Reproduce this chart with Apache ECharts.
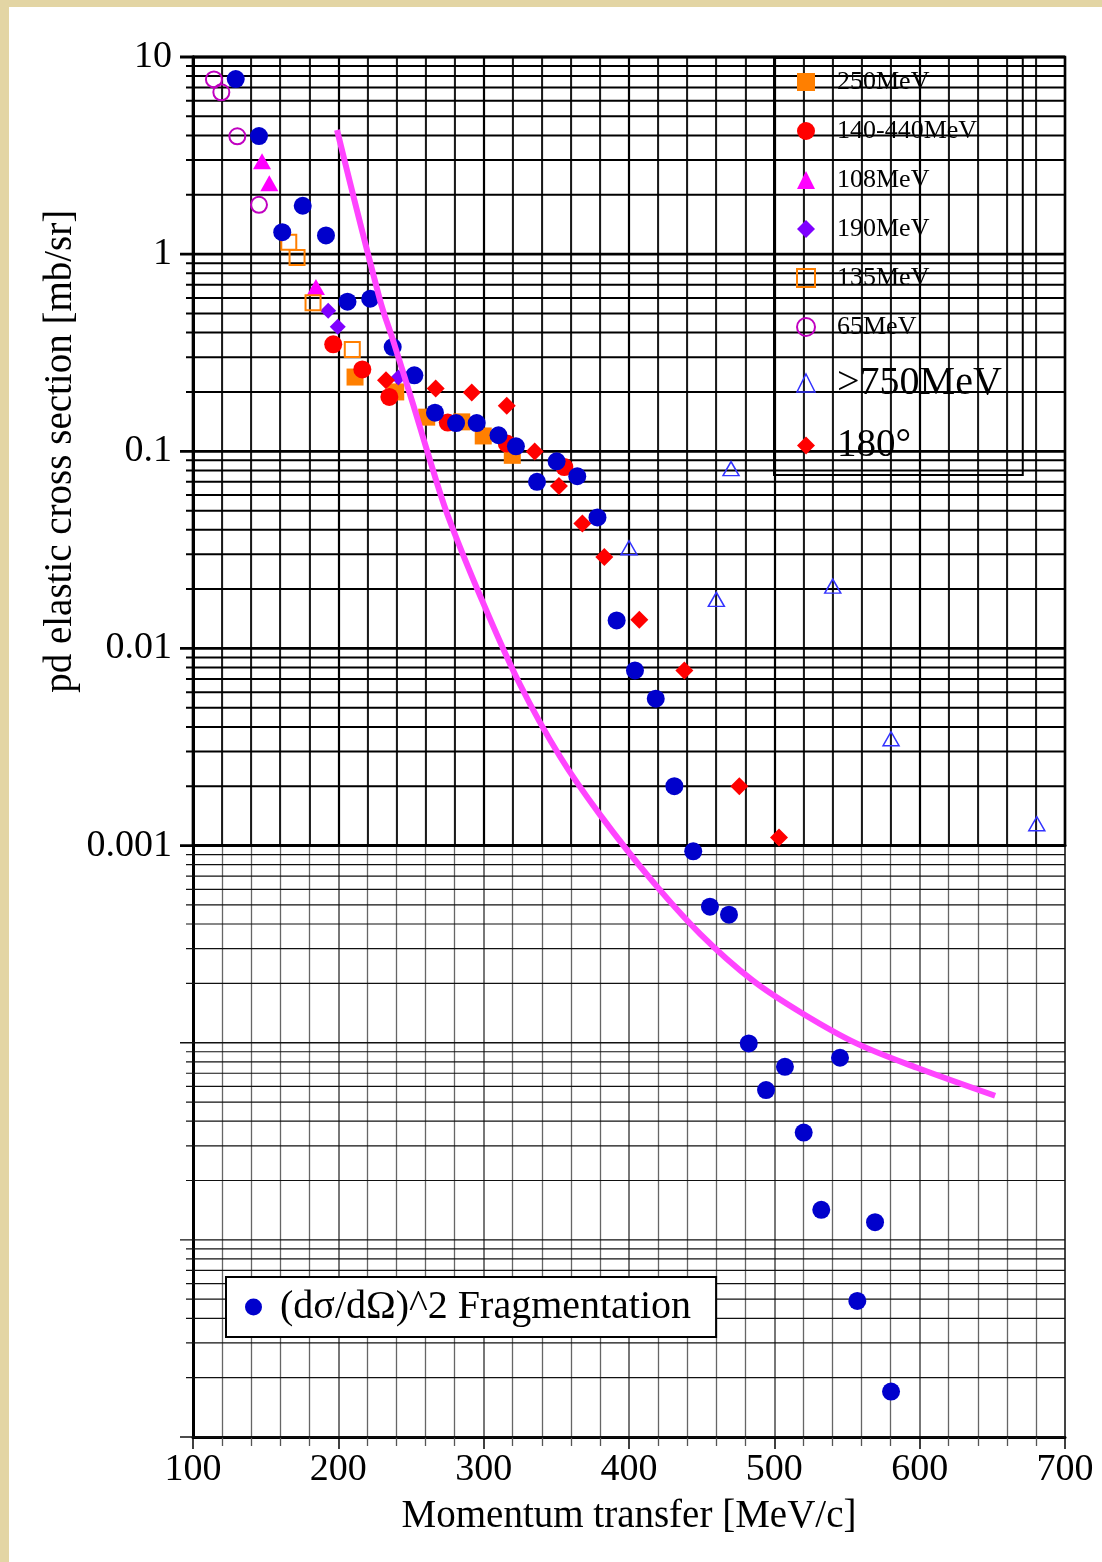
<!DOCTYPE html>
<html>
<head>
<meta charset="utf-8">
<title>pd elastic cross section</title>
<script src="https://cdn.jsdelivr.net/npm/echarts@6/dist/echarts.min.js"></script>
<style>
  html, body { margin: 0; padding: 0; background: #e3d5a4; overflow: hidden; }
  #paper { position: absolute; left: 9px; top: 7px; right: 0; bottom: 0; background: #ffffff; }
  #chart { position: absolute; left: 0; top: 0; width: 1102px; height: 1562px; }
</style>
</head>
<body>
<div id="paper"></div>
<div id="chart"></div>
<script>
// ---- axes ----
const X_MIN = 100, X_MAX = 700;
const xTickLabels = [100, 200, 300, 400, 500, 600, 700];
const yTickLabels = [10, 1, 0.1, 0.01, 0.001];
const Y_MIN_FULL = 1e-6, Y_MAX = 10, Y_MIN_UPPER = 0.001;

// ---- measurements: [momentum transfer MeV/c, cross section mb/sr] ----
const fragmentation = [
  [129.4, 7.73], [145.4, 3.97], [161.4, 1.293], [175.5, 1.76], [191.5, 1.245],
  [206.3, 0.574], [221.9, 0.594], [237.4, 0.338], [252.3, 0.243], [266.5, 0.157],
  [281.0, 0.139], [295.2, 0.139], [310.2, 0.1206], [322.2, 0.106], [336.7, 0.070],
  [350.2, 0.0889], [364.4, 0.0747], [378.3, 0.0462], [391.5, 0.01387], [404.1, 0.00773],
  [418.4, 0.00556], [431.2, 0.0020], [444.2, 0.000935], [455.7, 0.00049], [468.8, 0.000446],
  [482.4, 9.92e-5], [494.3, 5.75e-5], [507.3, 7.55e-5], [520.2, 3.50e-5], [532.3, 1.42e-5],
  [545.2, 8.39e-5], [557.1, 4.90e-6], [569.3, 1.23e-5], [580.3, 1.70e-6]
];
const mev250 = [[211.5, 0.238], [239.5, 0.20], [260.8, 0.149], [284.9, 0.141], [299.7, 0.1196], [319.7, 0.0954]];
const mev140to440 = [[196.5, 0.349], [216.5, 0.26], [235.1, 0.1886], [275.3, 0.1399], [315.9, 0.1094], [355.5, 0.0832]];
const mev108 = [[147.5, 2.96], [152.5, 2.29], [184.6, 0.682]];
const mev190 = [[193.0, 0.516], [199.6, 0.428], [241.3, 0.237]];
const mev135 = [[165.9, 1.15], [171.6, 0.962], [182.6, 0.566], [209.6, 0.328]];
const mev65 = [[114.4, 7.70], [119.5, 6.62], [130.5, 3.96], [145.4, 1.78]];
const mevOver750 = [[400.0, 0.0324], [460.1, 0.01773], [470.2, 0.0817], [540.2, 0.0207], [580.3, 0.00348], [680.6, 0.00129]];
const deg180 = [
  [232.8, 0.2293], [267.0, 0.208], [291.8, 0.1986], [315.9, 0.170], [335.1, 0.0997], [351.8, 0.0667],
  [367.9, 0.0430], [383.0, 0.0291], [407.1, 0.01399], [438.1, 0.00773], [475.9, 0.0020], [503.2, 0.0011]
];

// ---- calculated curve ----
const curveX = [199.1, 228.7, 237.6, 251.4, 261.0, 274.8, 298.9, 325.0, 352.5, 380.0, 415.8, 448.9, 485.3, 519.7, 556.9, 598.2, 651.9];
const curveY = [4.26, 0.584, 0.366, 0.1733, 0.1012, 0.0484, 0.01754, 0.00656, 0.00283, 0.001436, 0.000664, 0.000357, 0.0002065, 0.0001403, 9.89e-5, 7.46e-5, 5.38e-5];

// ---- logarithmic grid lines (1..9 x 10^k) ----
function logLines(kFrom, kTo) {
  const out = [];
  for (let k = kFrom; k <= kTo; k++) {
    for (let m = 1; m <= 9; m++) out.push([X_MIN, Number((m * Math.pow(10, k)).toPrecision(3)), m === 1 ? 1 : 0]);
  }
  return out;
}
const lowerLines = logLines(-6, -4);
const upperLines = logLines(-3, 0).concat([[X_MIN, Y_MAX, 1]]);

const FONT = '"Liberation Serif", "Times New Roman", Times, serif';

function gridLineSeries(data, xi, yi, color, minorW, majorW) {
  return {
    type: 'custom', xAxisIndex: xi, yAxisIndex: yi, silent: true, clip: false, z: 1,
    data: data,
    renderItem: function (params, api) {
      const v = api.value(1), major = api.value(2);
      const p0 = api.coord([X_MIN, v]);
      const p1 = api.coord([X_MAX, v]);
      return {
        type: 'line',
        shape: { x1: p0[0] - (major ? 13 : 7), y1: p0[1], x2: p1[0], y2: p1[1] },
        style: { stroke: color, lineWidth: major ? majorW : minorW }
      };
    }
  };
}

function openStyle(c, w) {
  return { color: 'rgba(255,255,255,0)', borderColor: c, borderWidth: w, opacity: 1 };
}
function solidStyle(c) {
  return { color: c, opacity: 1 };
}

const chart = echarts.init(document.getElementById('chart'), null, { renderer: 'canvas' });

const GRID_LEFT = 193, GRID_TOP = 57, GRID_W = 872, GRID_H = 1380;
const UPPER_H = GRID_H * 4 / 7;
const LEGEND_TEXT_PAD = [0, 0, 0, 17];

chart.setOption({
  animation: false,
  backgroundColor: 'transparent',
  textStyle: { fontFamily: FONT, color: '#000' },
  grid: [
    { left: GRID_LEFT, top: GRID_TOP, width: GRID_W, height: GRID_H, show: true, borderColor: '#000', borderWidth: 2, backgroundColor: 'transparent' },
    { left: GRID_LEFT, top: GRID_TOP, width: GRID_W, height: UPPER_H, show: true, borderColor: '#000', borderWidth: 2.5, backgroundColor: 'transparent' }
  ],
  xAxis: [
    {
      gridIndex: 0, type: 'value', min: X_MIN, max: X_MAX, interval: 100,
      name: 'Momentum transfer [MeV/c]', nameLocation: 'middle', nameGap: 60, nameMoveOverlap: false,
      nameTextStyle: { fontFamily: FONT, fontSize: 39, color: '#000' },
      axisLine: { show: true, onZero: false, lineStyle: { color: '#000', width: 3 } },
      axisTick: { show: true, length: 12, lineStyle: { color: '#000', width: 1.5 } },
      minorTick: { show: true, splitNumber: 5, length: 9, lineStyle: { color: '#555', width: 1.3 } },
      axisLabel: {
        fontFamily: FONT, fontSize: 38, color: '#000', margin: 14,
        formatter: function (v) { return xTickLabels.indexOf(v) >= 0 ? String(v) : ''; }
      },
      splitLine: { show: true, lineStyle: { color: '#555', width: 1.6 } },
      minorSplitLine: { show: true, lineStyle: { color: '#666', width: 1.3 } }
    },
    {
      gridIndex: 1, type: 'value', min: X_MIN, max: X_MAX, interval: 100,
      axisLine: { show: true, onZero: false, lineStyle: { color: '#000', width: 3 } },
      axisTick: { show: false },
      minorTick: { show: false, splitNumber: 5 },
      axisLabel: { show: false },
      splitLine: { show: true, lineStyle: { color: '#000', width: 2.2 } },
      minorSplitLine: { show: true, lineStyle: { color: '#111', width: 1.8 } }
    }
  ],
  yAxis: [
    {
      gridIndex: 0, type: 'log', logBase: 10, min: Y_MIN_FULL, max: Y_MAX,
      axisLine: { show: true, onZero: false, lineStyle: { color: '#000', width: 3 } },
      axisTick: { show: false },
      axisLabel: { show: false },
      splitLine: { show: false }
    },
    {
      gridIndex: 1, type: 'log', logBase: 10, min: Y_MIN_UPPER, max: Y_MAX,
      name: 'pd elastic cross section [mb/sr]', nameLocation: 'middle', nameGap: 113, nameMoveOverlap: false,
      nameTextStyle: { fontFamily: FONT, fontSize: 39, color: '#000' },
      axisLine: { show: true, onZero: false, lineStyle: { color: '#000', width: 3 } },
      axisTick: { show: false },
      axisLabel: {
        fontFamily: FONT, fontSize: 38, color: '#000', margin: 21,
        formatter: function (v) {
          const r = Number(Number(v).toPrecision(6));
          return yTickLabels.indexOf(r) >= 0 ? String(r) : '';
        }
      },
      splitLine: { show: false }
    }
  ],
  legend: [
    {
      left: 774, top: 58, orient: 'vertical', align: 'left',
      itemWidth: 18, itemHeight: 18, itemGap: 23,
      padding: [11, 21, 10, 22],
      borderColor: '#000', borderWidth: 2, backgroundColor: 'transparent',
      selectedMode: false,
      textStyle: { fontFamily: FONT, fontSize: 26, color: '#000', padding: LEGEND_TEXT_PAD },
      data: [
        { name: '250MeV', icon: 'rect', itemStyle: solidStyle('#ff7f00') },
        { name: '140-440MeV', icon: 'circle', itemStyle: solidStyle('#ff0000') },
        { name: '108MeV', icon: 'triangle', itemStyle: solidStyle('#ff00ff') },
        { name: '190MeV', icon: 'diamond', itemStyle: solidStyle('#7f00ff') },
        { name: '135MeV', icon: 'rect', itemStyle: openStyle('#ff7f00', 2) },
        { name: '65MeV', icon: 'circle', itemStyle: openStyle('#c000c0', 2) },
        { name: '>750MeV', icon: 'triangle', itemStyle: openStyle('#3333ff', 1.5), textStyle: { fontSize: 40, padding: LEGEND_TEXT_PAD } },
        { name: '180°', icon: 'diamond', itemStyle: solidStyle('#ff0000'), textStyle: { fontSize: 39, padding: LEGEND_TEXT_PAD } }
      ]
    },
    {
      left: 226, top: 1277, orient: 'horizontal',
      itemWidth: 17, itemHeight: 17,
      padding: [10, 25, 10, 19],
      borderColor: '#000', borderWidth: 2, backgroundColor: '#ffffff',
      selectedMode: false,
      textStyle: { fontFamily: FONT, fontSize: 40, color: '#000', padding: [0, 0, 0, 13] },
      data: [{ name: '(dσ/dΩ)^2 Fragmentation', icon: 'circle', itemStyle: solidStyle('#0000cc') }]
    }
  ],
  series: [
    gridLineSeries(lowerLines, 0, 0, '#111', 1.2, 1.4),
    gridLineSeries(upperLines, 1, 1, '#000', 2, 2.8),
    { name: '250MeV', type: 'scatter', z: 3, symbol: 'rect', symbolSize: 17, data: mev250,
      itemStyle: solidStyle('#ff7f00') },
    { name: '140-440MeV', type: 'scatter', z: 3, symbol: 'circle', symbolSize: 18, data: mev140to440,
      itemStyle: solidStyle('#ff0000') },
    { name: '108MeV', type: 'scatter', z: 3, symbol: 'triangle', symbolSize: [18, 16], data: mev108,
      itemStyle: solidStyle('#ff00ff') },
    { name: '190MeV', type: 'scatter', z: 3, symbol: 'diamond', symbolSize: 16, data: mev190,
      itemStyle: solidStyle('#7f00ff') },
    { name: '135MeV', type: 'scatter', z: 3, symbol: 'rect', symbolSize: 15, data: mev135,
      itemStyle: openStyle('#ff7f00', 2) },
    { name: '65MeV', type: 'scatter', z: 3, symbol: 'circle', symbolSize: 16, data: mev65,
      itemStyle: openStyle('#c000c0', 2) },
    { name: '>750MeV', type: 'scatter', z: 3, symbol: 'triangle', symbolSize: [16, 14], data: mevOver750,
      itemStyle: openStyle('#3333ff', 1.5) },
    { name: '180°', type: 'scatter', z: 3, symbol: 'diamond', symbolSize: 18, data: deg180,
      itemStyle: solidStyle('#ff0000') },
    { name: '(dσ/dΩ)^2 Fragmentation', type: 'scatter', z: 3, symbol: 'circle', symbolSize: 18, data: fragmentation,
      itemStyle: solidStyle('#0000cc') },
    { name: 'curve', type: 'line', z: 4, showSymbol: false, symbol: 'none', smooth: 0.35,
      data: curveX.map(function (x, i) { return [x, curveY[i]]; }),
      lineStyle: { color: '#ff44ff', width: 6, cap: 'butt', join: 'round' } }
  ]
});
</script>
</body>
</html>
